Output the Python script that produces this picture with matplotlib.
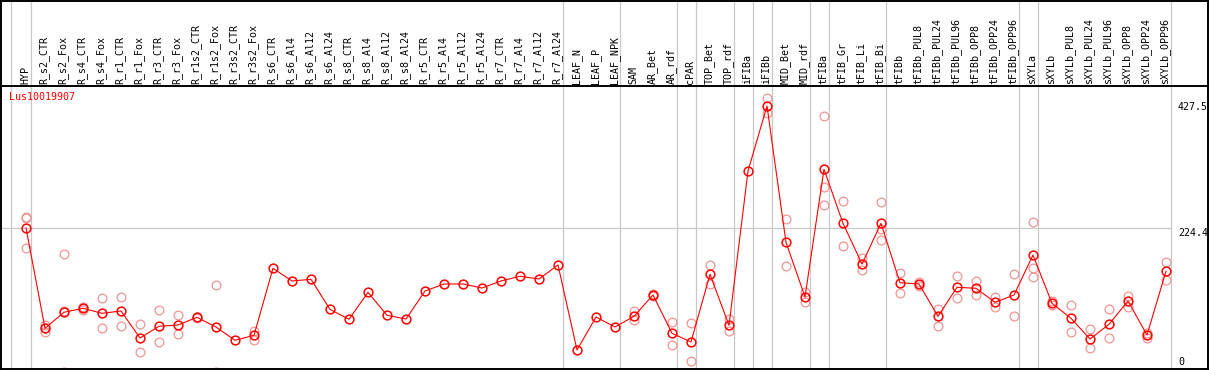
import matplotlib
matplotlib.use("Agg")
import matplotlib.pyplot as plt
import matplotlib.transforms as mtransforms
from matplotlib.lines import Line2D

# sample names (column order)
samples = ["HYP", "R_s2_CTR", "R_s2_Fox", "R_s4_CTR", "R_s4_Fox", "R_r1_CTR", "R_r1_Fox",
           "R_r3_CTR", "R_r3_Fox", "R_r1s2_CTR", "R_r1s2_Fox", "R_r3s2_CTR", "R_r3s2_Fox",
           "R_s6_CTR", "R_s6_Al4", "R_s6_Al12", "R_s6_Al24", "R_s8_CTR", "R_s8_Al4",
           "R_s8_Al12", "R_s8_Al24", "R_r5_CTR", "R_r5_Al4", "R_r5_Al12", "R_r5_Al24",
           "R_r7_CTR", "R_r7_Al4", "R_r7_Al12", "R_r7_Al24", "LEAF_N", "LEAF_P", "LEAF_NPK",
           "SAM", "AR_Bet", "AR_rdf", "cPAR", "TOP_Bet", "TOP_rdf", "iFIBa", "iFIBb",
           "MID_Bet", "MID_rdf", "tFIBa", "tFIB_Gr", "tFIB_Li", "tFIB_Bi", "tFIBb",
           "tFIBb_PUL8", "tFIBb_PUL24", "tFIBb_PUL96", "tFIBb_OPP8", "tFIBb_OPP24",
           "tFIBb_OPP96", "sXYLa", "sXYLb", "sXYLb_PUL8", "sXYLb_PUL24", "sXYLb_PUL96",
           "sXYLb_OPP8", "sXYLb_OPP24", "sXYLb_OPP96"]

# mean expression per sample
means = [224.4, 67.7, 92.7, 98.9, 91.1, 94.7, 52.5, 70.8, 72.8, 84.8, 69.7, 48.9, 56.7,
         161.4, 141.6, 144.2, 97.3, 81.7, 123.9, 88.0, 82.2, 125.9, 136.9, 136.9, 130.6,
         141.6, 148.9, 144.7, 166.6, 33.8, 85.3, 69.7,
         86.4, 119.7, 59.8, 46.3, 152.0, 72.3, 313.4, 415.0,
         202.0, 116.6, 316.1, 231.7, 168.1, 231.7, 138.9,
         136.9, 86.4, 131.7, 130.2, 108.3, 119.7,
         182.2, 106.7, 83.3, 50.9, 73.9, 110.3, 57.2, 156.7]

# individual replicates
replicates = [[242, 240.5, 192.7], [72.8, 61.4, 68], [183.8, 0, 94], [101.4, 97], [114.5, 67.7],
              [117, 70.8], [73.9, 30.2], [95.8, 45.8], [88, 59.2], [84.2, 85.4], [134.8, 0],
              [], [63.4, 49.8], [], [], [], [], [], [], [], [], [], [], [], [], [], [], [], [],
              [], [], [],
              [94.2, 80.6], [121, 118.4], [77, 41.1], [75.9, 16.1], [166.1, 136.4], [81.7, 63.9],
              [], [427.5, 403.6],
              [238, 165], [124.4, 109.2], [399.4, 288, 259.8], [266.1, 195.8], [177.5, 159.2],
              [264.5, 222.8, 205.2], [154, 122.3],
              [140, 133.8], [98.3, 71.7], [148.9, 114.5], [141.6, 119.2], [116.6, 101.4],
              [152, 86.4],
              [233.3, 162.3, 147.3], [110.3, 104], [103.6, 61.4], [66.6, 36.4], [97.3, 52],
              [118.1, 100.5], [59.8, 53], [170.8, 143.1]]

# number of samples in each tissue group
group_sizes = [1, 28, 3, 3, 1, 2, 1, 1, 2, 1, 3, 7, 1, 7]

gene = "Lus10019907"
y_ticks = [427.5, 224.4, 0]

W, H = 1209, 370
mono = "DejaVu Sans Mono"
fs = 7.2
grey = "#c8c8c8"
rep_color = "#f09494"

fig = plt.figure(figsize=(W / 100, H / 100), dpi=100)
ax = fig.add_axes([0, 1 - 369 / H, 1, (369 - 86) / H])
ax.axis("off")

# pixel mapping: column i at px 26 + 19 i ; value v at px 371.6 - 0.64 v
ax.set_xlim(-26 / 19, (W - 26) / 19)
ax.set_ylim((371.6 - 369) / 0.64, (371.6 - 86) / 0.64)

xfig = mtransforms.blended_transform_factory(ax.transData, fig.transFigure)

# group separators
bounds = [-0.8]
pos = 0
for g in group_sizes:
    pos += g
    bounds.append(pos - 1 + 0.25)
for b in bounds:
    ax.plot([b, b], [1 - 369 / H, 1.0], color=grey, lw=0.9, transform=xfig,
            clip_on=False, zorder=1)

# horizontal reference line
ax.plot([-26 / 19, bounds[-1]], [y_ticks[1], y_ticks[1]], color=grey, lw=0.9, zorder=1)

# replicates
for i, reps in enumerate(replicates):
    if reps:
        ax.plot([i] * len(reps), reps, linestyle="none", marker="o", ms=6.3,
                mfc="none", mec=rep_color, mew=0.9, zorder=2)

# means
x = list(range(len(samples)))
ax.plot(x, means, color="red", lw=0.8, marker="o", ms=6.3, mfc="none",
        mec="red", mew=1.1, zorder=3)

# sample labels in header
for i, s in enumerate(samples):
    ax.text(i - 0.05, 1 - 84 / H, s, rotation=90, ha="center", va="bottom",
            fontsize=fs, family=mono, transform=xfig)

# gene name
fig.text(9 / W, 1 - 97 / H, gene, color="red", fontsize=fs, family=mono,
         ha="left", va="center")

# value labels on the right
fig.text(1178 / W, 1 - 107 / H, "427.5", fontsize=fs, family=mono, ha="left", va="center")
fig.text(1178 / W, 1 - 233 / H, "224.4", fontsize=fs, family=mono, ha="left", va="center")
fig.text(1178 / W, 1 - 362 / H, "0", fontsize=fs, family=mono, ha="left", va="center")

# frame
def hline(ypx, x0=0, x1=W):
    fig.add_artist(Line2D([x0 / W, x1 / W], [1 - ypx / H, 1 - ypx / H], color="black", lw=1.4))

def vline(xpx, y0=0, y1=H):
    fig.add_artist(Line2D([xpx / W, xpx / W], [1 - y0 / H, 1 - y1 / H], color="black", lw=1.4))

hline(0.7)
hline(85.5)
hline(368.8)
vline(0.7)
vline(1207.5)

fig.savefig("out.png", dpi=100)
